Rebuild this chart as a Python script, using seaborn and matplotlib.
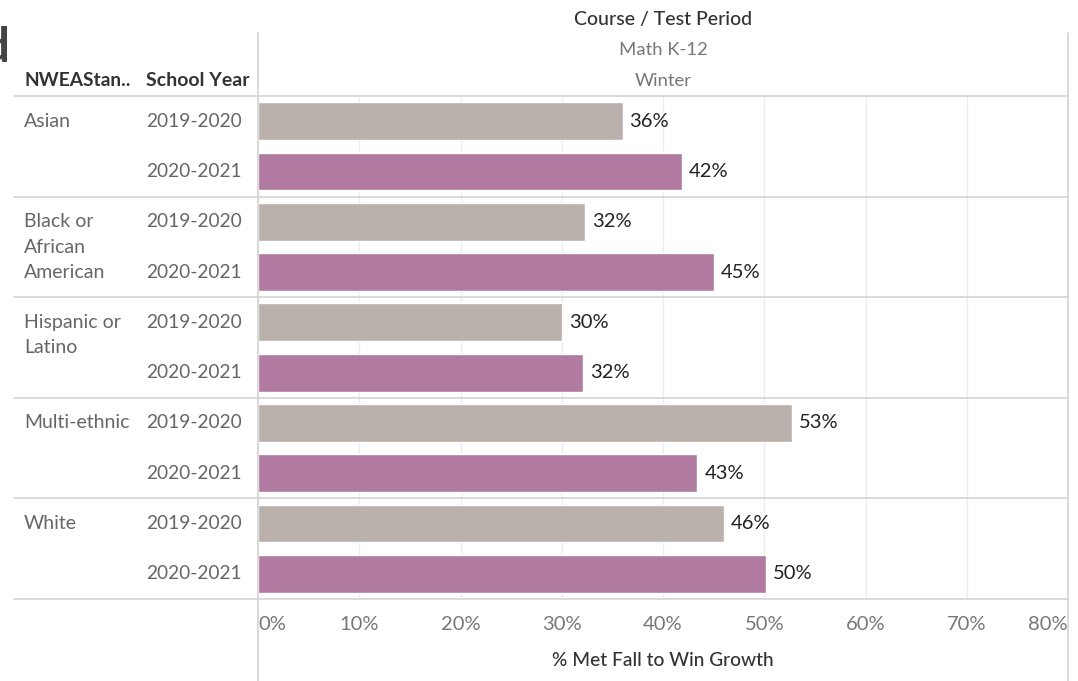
import pandas as pd
import matplotlib.pyplot as plt
import seaborn as sns
from matplotlib.transforms import blended_transform_factory
from matplotlib.lines import Line2D

# ============================================
# DATA
# ============================================
groups = ["Asian", "Black or\nAfrican\nAmerican", "Hispanic or\nLatino", "Multi-ethnic", "White"]
years = ["2019-2020", "2020-2021"]
pct_2019 = [36.0, 32.3, 30.0, 52.7, 46.0]
pct_2020 = [41.9, 45.0, 32.1, 43.4, 50.2]
x_ticks = [0, 10, 20, 30, 40, 50, 60, 70, 80]
x_tick_labels = ["0%", "10%", "20%", "30%", "40%", "50%", "60%", "70%", "80%"]

df = pd.DataFrame({
    "group": groups * 2,
    "year": [years[0]] * len(groups) + [years[1]] * len(groups),
    "pct": pct_2019 + pct_2020,
})

colors = {"2019-2020": "#BAB0AC", "2020-2021": "#B07AA1"}

# ============================================
# FIGURE
# ============================================
sns.set_style("white")
plt.rcParams["font.family"] = ["Lato", "DejaVu Sans"]

W, H = 1078, 681
fig = plt.figure(figsize=(W / 100, H / 100), dpi=100)
ax = fig.add_axes([258 / W, (H - 599) / H, (1068 - 258) / W, (599 - 96) / H])

sns.barplot(data=df, y="group", x="pct", hue="year", palette=colors,
            width=1.0, gap=0.25, ax=ax, legend=False, saturation=1)

ax.set_xlim(0, 80)
ax.set_ylim(4.5, -0.5)
ax.set_xticks(x_ticks)
ax.set_xticklabels(x_tick_labels, fontsize=14.5, color="#777777")
labels = ax.get_xticklabels()
labels[0].set_ha("left")
labels[-1].set_ha("right")
ax.tick_params(axis="x", length=0, pad=12)
ax.set_yticks([])
ax.set_ylabel("")
ax.set_xlabel("% Met Fall to Win Growth", fontsize=13.8, color="#333333",
              labelpad=14, fontweight="medium")
ax.grid(axis="x", color="#ececec", linewidth=1)
ax.set_axisbelow(True)
for s in ax.spines.values():
    s.set_visible(False)

# value labels
for cont in ax.containers:
    ax.bar_label(cont, labels=[f"{v:.0f}%" for v in cont.datavalues],
                 padding=5, fontsize=14.5, color="#222222")

# ============================================
# ROW HEADERS (left table)
# ============================================
tr = blended_transform_factory(fig.transFigure, ax.transData)
line_step = 25.5 / 100.6
for i, g in enumerate(groups):
    for k, part in enumerate(g.split("\n")):
        ax.text(24 / W, i - 0.25 + k * line_step, part, transform=tr,
                ha="left", va="center", fontsize=14, color="#666666")
    ax.text(146 / W, i - 0.25, years[0], transform=tr,
            ha="left", va="center", fontsize=13.8, color="#666666")
    ax.text(146 / W, i + 0.25, years[1], transform=tr,
            ha="left", va="center", fontsize=13.8, color="#666666")

# separators
for i in range(len(groups) + 1):
    ax.add_line(Line2D([14 / W, 1068 / W], [i - 0.5, i - 0.5], transform=tr,
                       color="#d4d4d4", linewidth=1.2, clip_on=False))

# vertical frame lines
for xv in [258, 1068]:
    fig.add_artist(Line2D([xv / W, xv / W], [0, (H - 33) / H],
                          color="#d4d4d4", linewidth=1.2))

# ============================================
# COLUMN HEADERS
# ============================================
cx = (258 + 1068) / 2 / W
fig.text(cx, 1 - 20 / H, "Course / Test Period", ha="center", va="center",
         fontsize=14, color="#333333", fontweight="medium")
fig.text(cx, 1 - 50 / H, "Math K-12", ha="center", va="center",
         fontsize=13.3, color="#777777")
fig.text(cx, 1 - 81 / H, "Winter", ha="center", va="center",
         fontsize=13.3, color="#777777")
fig.text(24 / W, 1 - 81 / H, "NWEAStan..", ha="left", va="center",
         fontsize=13.8, color="#333333", fontweight="bold")
fig.text(146 / W, 1 - 81 / H, "School Year", ha="left", va="center",
         fontsize=14, color="#333333", fontweight="bold")

# cropped title glyph at the top-left edge
fig.text(9 / W, 1 - 48 / H, "d", ha="right", va="center",
         fontsize=34, color="#444444", fontweight="bold")

fig.savefig("out.png", dpi=100)
